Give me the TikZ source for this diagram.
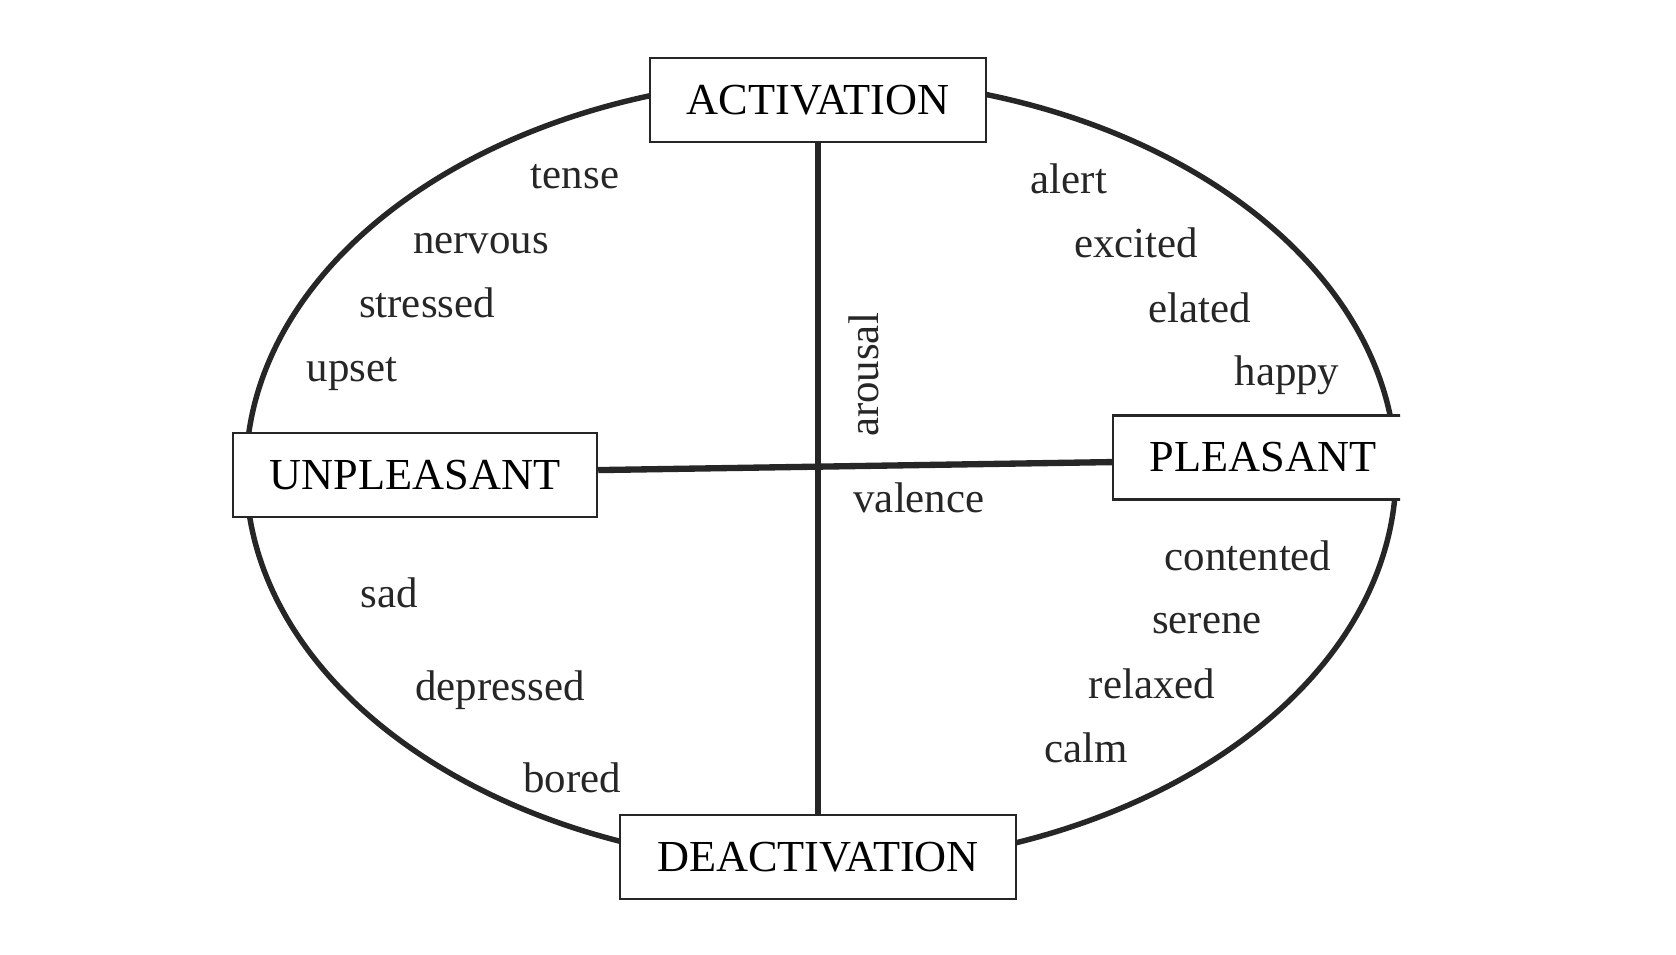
\documentclass[tikz,border=0pt]{standalone}
\usepackage{fontspec}
\setmainfont{Liberation Serif}
\usepackage{tikz}
\usetikzlibrary{positioning}

\begin{document}
\begin{tikzpicture}[x=0.01cm,y=-0.01cm,font=\fontsize{12.2pt}{14pt}\selectfont,
   pole/.style={draw=black!85,fill=white,line width=0.6pt,inner xsep=10.5pt,
                minimum height=23.9pt,inner ysep=0pt,
                font=\fontsize{12.6pt}{14pt}\selectfont},
   mood/.style={anchor=base,inner sep=0pt,text=black!85},
   rim/.style={draw=black!85,line width=1.55pt},
   axis/.style={draw=black!85,line width=1.8pt}]
  \useasboundingbox[fill=white] (0,0) rectangle (1676,954);
  \begin{scope}
  \clip (0,0) rectangle (1400,954);
  \draw[rim] (821,472) ellipse [x radius=575, y radius=394];
  % the four poles
  \node[pole] (act) at (818,100) {ACTIVATION};
  \node[pole] (deact) at (818,857) {DEACTIVATION};
  \node[pole] (unpl) at (415,475) {UNPLEASANT};
  \node[pole] (pleas) at (1263,457.5) {PLEASANT};
  % axes
  \draw[axis] (act.south) -- (deact.north);
  \draw[axis] ([yshift=1.4pt]unpl.east) -- ([yshift=-1.3pt]pleas.west);
  \end{scope}
  \node[mood,rotate=90] (arousal) at (878,375) {arousal};
  \node[mood] (valence) at (919,512) {valence};
  % upper left
  \node[mood] (tense) at (575,188) {tense};
  \node[mood] (nervous) at (481,253) {nervous};
  \node[mood] (stressed) at (427,317) {stressed};
  \node[mood] (upset) at (352,381) {upset};
  % upper right
  \node[mood] (alert) at (1069,193) {alert};
  \node[mood] (excited) at (1136,257) {excited};
  \node[mood] (elated) at (1200,322) {elated};
  \node[mood] (happy) at (1287,385) {happy};
  % lower left
  \node[mood] (sad) at (389,607) {sad};
  \node[mood] (depressed) at (500,700) {depressed};
  \node[mood] (bored) at (572,792) {bored};
  % lower right
  \node[mood] (contented) at (1248,570) {contented};
  \node[mood] (serene) at (1207,633) {serene};
  \node[mood] (relaxed) at (1152,698) {relaxed};
  \node[mood] (calm) at (1086,762) {calm};
\end{tikzpicture}
\end{document}
